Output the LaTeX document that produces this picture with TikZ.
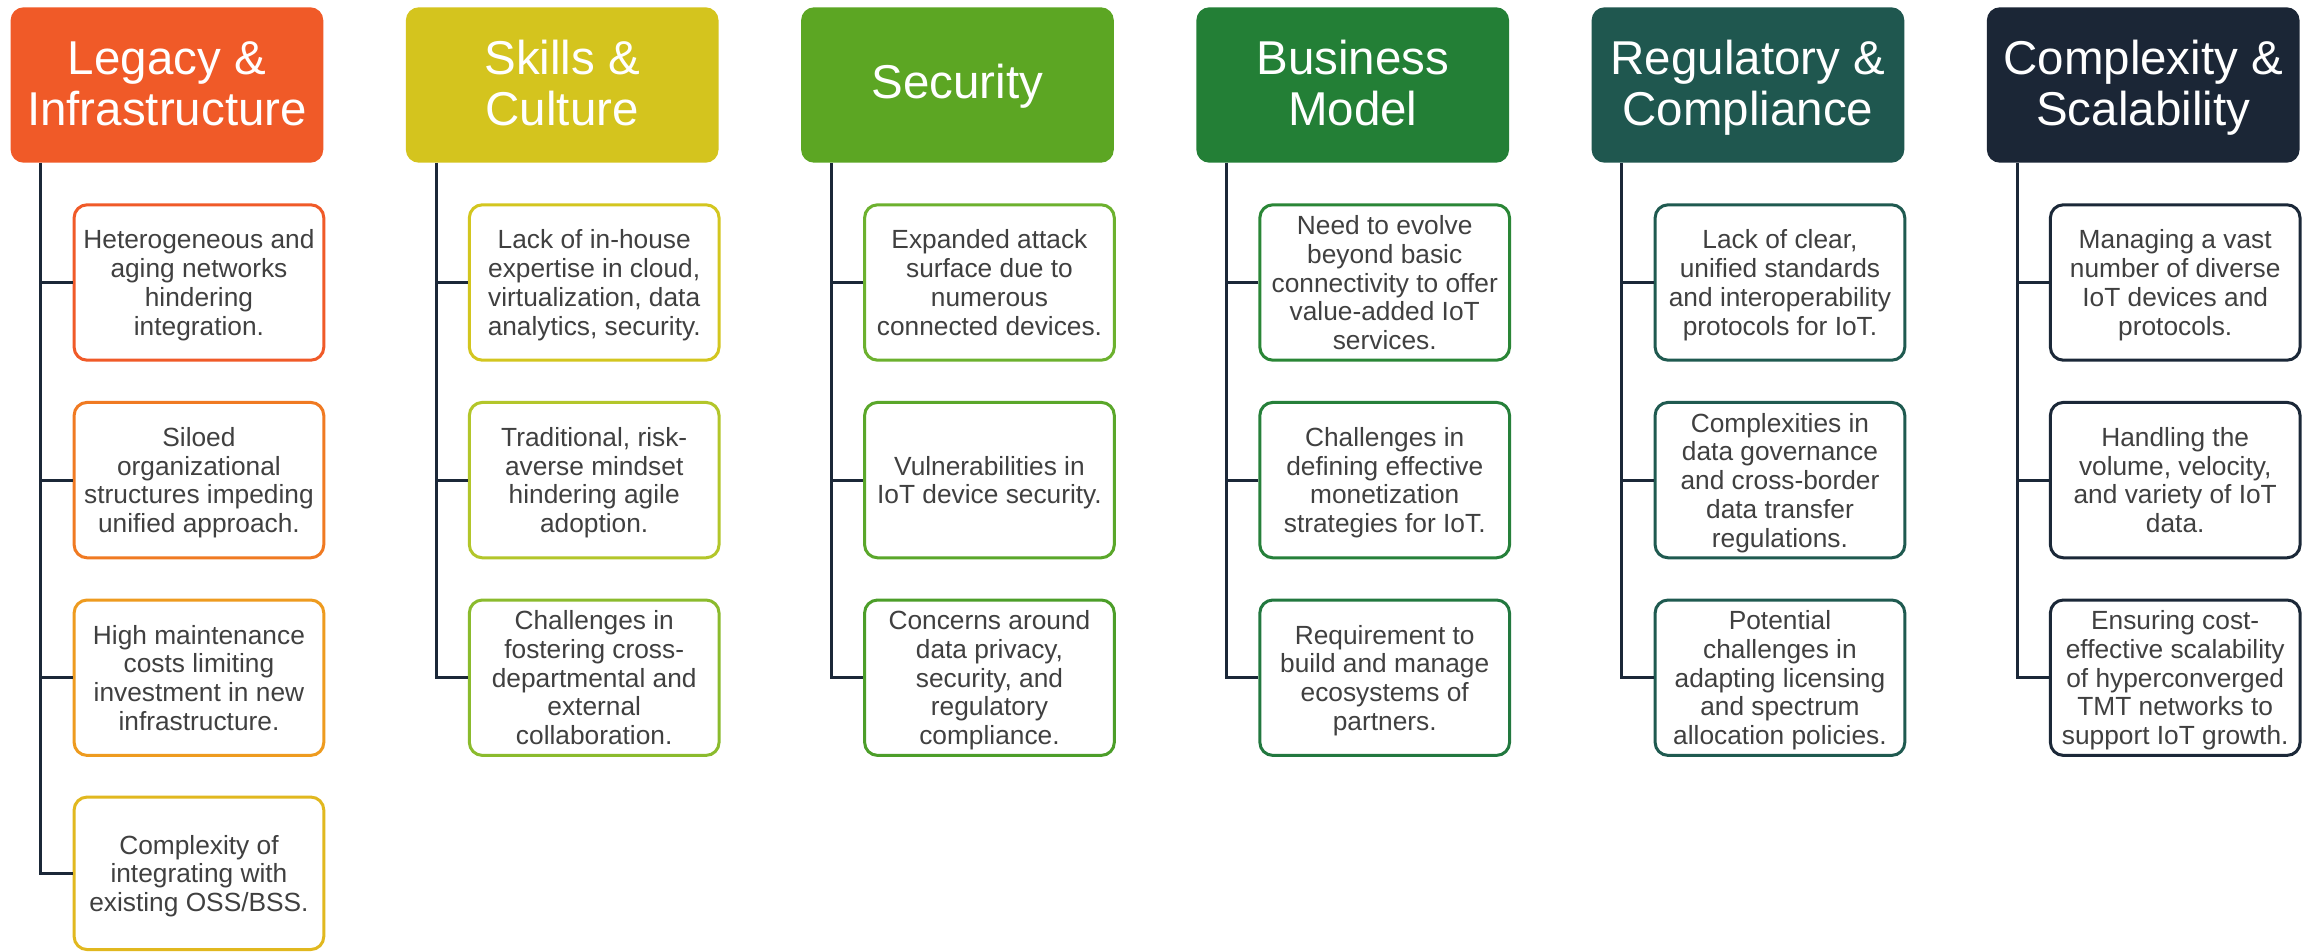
\documentclass[tikz,border=0pt]{standalone}
\usepackage{fontspec}
\setmainfont{Liberation Sans}
\definecolor{h1c}{HTML}{F05A28}
\definecolor{h2c}{HTML}{D4C41E}
\definecolor{h3c}{HTML}{5CA623}
\definecolor{h4c}{HTML}{237F36}
\definecolor{h5c}{HTML}{1F574F}
\definecolor{h6c}{HTML}{1B2636}
\definecolor{b11}{HTML}{F05A28}
\definecolor{b12}{HTML}{F07A22}
\definecolor{b13}{HTML}{EE9B1F}
\definecolor{b14}{HTML}{E1B81F}
\definecolor{b21}{HTML}{D3C61F}
\definecolor{b22}{HTML}{B3C62A}
\definecolor{b23}{HTML}{8BBB2D}
\definecolor{b31}{HTML}{6CB12E}
\definecolor{b32}{HTML}{5AA72A}
\definecolor{b33}{HTML}{4C9E29}
\definecolor{b41}{HTML}{2A8636}
\definecolor{b42}{HTML}{26803A}
\definecolor{b43}{HTML}{22783F}
\definecolor{b5}{HTML}{1F5A50}
\definecolor{b6}{HTML}{1B2838}
\definecolor{navy}{HTML}{1B2838}
\definecolor{txt}{HTML}{404040}
\tikzset{
  hdr/.style={rounded corners=13pt, minimum width=312.7pt, minimum height=155.4pt,
    inner sep=0pt, text=white, align=center, font=\fontsize{47.5}{51}\selectfont,
    text depth=0pt, text height=82pt},
  hdrone/.style={text height=28pt},
  box/.style={draw, line width=3pt, rounded corners=13pt, fill=white,
    minimum width=249.7pt, minimum height=155.4pt, inner sep=0pt, text=txt,
    align=center, font=\fontsize{26.3}{28.75}\selectfont, text depth=0pt},
  two/.style={text height=47.75pt},
  three/.style={text height=76.5pt},
  four/.style={text height=105.25pt},
  five/.style={text height=134pt},
  conn/.style={line width=3pt, draw=navy}
}
\begin{document}
\begin{tikzpicture}[x=1pt,y=-1pt]
\useasboundingbox[fill=white] (0,0) rectangle (2308,952);
% headers
\node[hdr, fill=h1c] (h1) at (166.95,85) {Legacy \&\\Infrastructure};
\node[hdr, fill=h2c] (h2) at (562.2,85) {Skills \&\\Culture};
\node[hdr, hdrone, fill=h3c] (h3) at (957.45,85) {Security};
\node[hdr, fill=h4c] (h4) at (1352.7,85) {Business\\Model};
\node[hdr, fill=h5c] (h5) at (1747.95,85) {Regulatory \&\\Compliance};
\node[hdr, fill=h6c] (h6) at (2143.2,85) {Complexity \&\\Scalability};
% column 1
\node[box, four, draw=b11] (c1r1) at (198.95,282.5) {Heterogeneous and\\aging networks\\hindering\\integration.};
\node[box, four, draw=b12] (c1r2) at (198.95,480.1) {Siloed\\organizational\\structures impeding\\unified approach.};
\node[box, four, draw=b13] (c1r3) at (198.95,677.7) {High maintenance\\costs limiting\\investment in new\\infrastructure.};
\node[box, three, draw=b14, minimum height=152.5pt] (c1r4) at (198.95,873.3) {Complexity of\\integrating with\\existing OSS/BSS.};
% column 2
\node[box, four, draw=b21] (c2r1) at (594.2,282.5) {Lack of in-house\\expertise in cloud,\\virtualization, data\\analytics, security.};
\node[box, four, draw=b22] (c2r2) at (594.2,480.1) {Traditional, risk-\\averse mindset\\hindering agile\\adoption.};
\node[box, five, draw=b23] (c2r3) at (594.2,677.7) {Challenges in\\fostering cross-\\departmental and\\external\\collaboration.};
% column 3
\node[box, four, draw=b31] (c3r1) at (989.45,282.5) {Expanded attack\\surface due to\\numerous\\connected devices.};
\node[box, two, draw=b32] (c3r2) at (989.45,480.1) {Vulnerabilities in\\IoT device security.};
\node[box, five, draw=b33] (c3r3) at (989.45,677.7) {Concerns around\\data privacy,\\security, and\\regulatory\\compliance.};
% column 4
\node[box, five, draw=b41] (c4r1) at (1384.7,282.5) {Need to evolve\\beyond basic\\connectivity to offer\\value-added IoT\\services.};
\node[box, four, draw=b42] (c4r2) at (1384.7,480.1) {Challenges in\\defining effective\\monetization\\strategies for IoT.};
\node[box, four, draw=b43] (c4r3) at (1384.7,677.7) {Requirement to\\build and manage\\ecosystems of\\partners.};
% column 5
\node[box, four, draw=b5] (c5r1) at (1779.95,282.5) {Lack of clear,\\unified standards\\and interoperability\\protocols for IoT.};
\node[box, five, draw=b5] (c5r2) at (1779.95,480.1) {Complexities in\\data governance\\and cross-border\\data transfer\\regulations.};
\node[box, five, draw=b5] (c5r3) at (1779.95,677.7) {Potential\\challenges in\\adapting licensing\\and spectrum\\allocation policies.};
% column 6
\node[box, four, draw=b6] (c6r1) at (2175.2,282.5) {Managing a vast\\number of diverse\\IoT devices and\\protocols.};
\node[box, four, draw=b6] (c6r2) at (2175.2,480.1) {Handling the\\volume, velocity,\\and variety of IoT\\data.};
\node[box, five, draw=b6] (c6r3) at (2175.2,677.7) {Ensuring cost-\\effective scalability\\of hyperconverged\\TMT networks to\\support IoT growth.};
% connector tops
\coordinate (t1) at ([xshift=30.5pt]h1.south west);
\coordinate (t2) at ([xshift=30.5pt]h2.south west);
\coordinate (t3) at ([xshift=30.5pt]h3.south west);
\coordinate (t4) at ([xshift=30.5pt]h4.south west);
\coordinate (t5) at ([xshift=30.5pt]h5.south west);
\coordinate (t6) at ([xshift=30.5pt]h6.south west);
% connectors
\draw[conn] (t1) |- (c1r4.west);
\draw[conn] (c1r1.west) -- (c1r1.west -| t1);
\draw[conn] (c1r2.west) -- (c1r2.west -| t1);
\draw[conn] (c1r3.west) -- (c1r3.west -| t1);
\draw[conn] (t2) |- (c2r3.west);
\draw[conn] (c2r1.west) -- (c2r1.west -| t2);
\draw[conn] (c2r2.west) -- (c2r2.west -| t2);
\draw[conn] (t3) |- (c3r3.west);
\draw[conn] (c3r1.west) -- (c3r1.west -| t3);
\draw[conn] (c3r2.west) -- (c3r2.west -| t3);
\draw[conn] (t4) |- (c4r3.west);
\draw[conn] (c4r1.west) -- (c4r1.west -| t4);
\draw[conn] (c4r2.west) -- (c4r2.west -| t4);
\draw[conn] (t5) |- (c5r3.west);
\draw[conn] (c5r1.west) -- (c5r1.west -| t5);
\draw[conn] (c5r2.west) -- (c5r2.west -| t5);
\draw[conn] (t6) |- (c6r3.west);
\draw[conn] (c6r1.west) -- (c6r1.west -| t6);
\draw[conn] (c6r2.west) -- (c6r2.west -| t6);
\end{tikzpicture}
\end{document}
